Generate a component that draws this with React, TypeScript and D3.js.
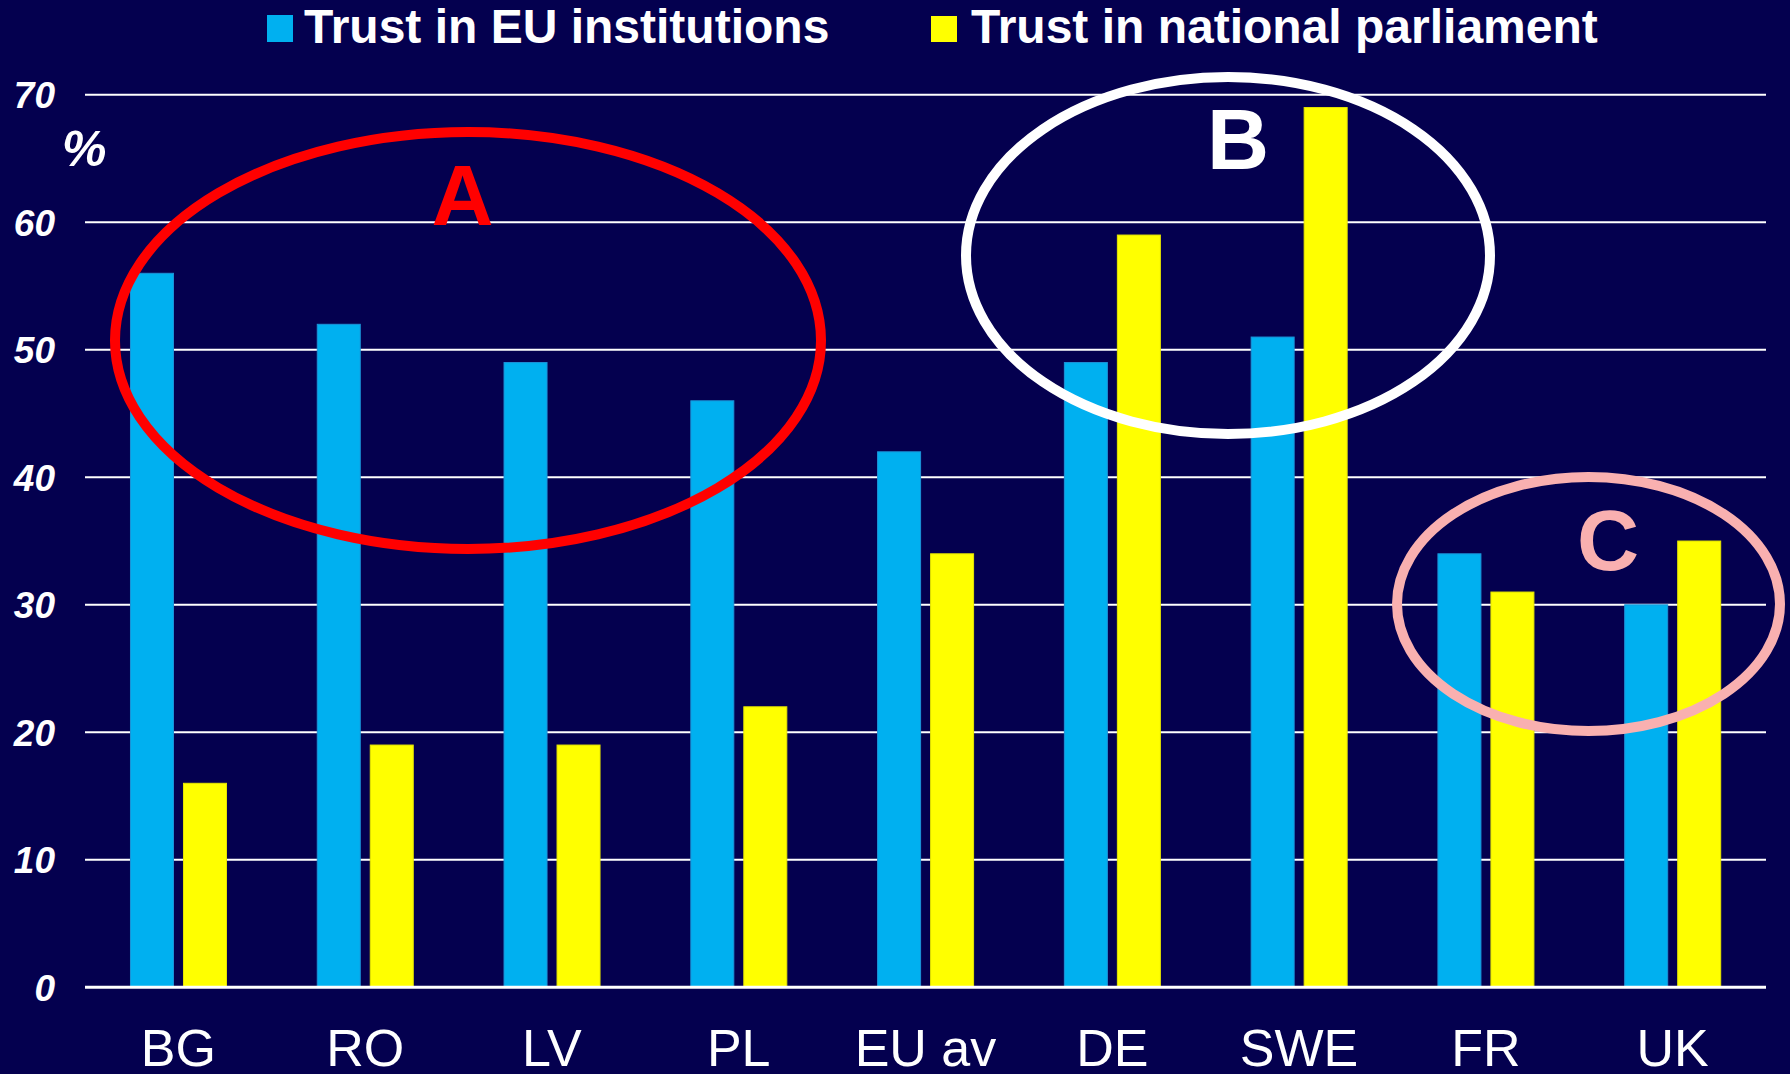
import React, { useEffect } from "react";
import * as d3 from "d3";

const categories = ["BG", "RO", "LV", "PL", "EU av", "DE", "SWE", "FR", "UK"];
const seriesNames = ["Trust in EU institutions", "Trust in national parliament"];
const trustEU = [56, 52, 49, 46, 42, 49, 51, 34, 30];
const trustNational = [16, 19, 19, 22, 34, 59, 69, 31, 35];
const yTicks = [0, 10, 20, 30, 40, 50, 60, 70];
const seriesColors = ["#00B0F0", "#FFFF00"];
const seriesStrokes = ["#1C93D8", "#E6E600"];

const W = 1790;
const H = 1074;
const FONT = "'Liberation Sans', Arial, Helvetica, sans-serif";
const BG = "#04004F";

export default function App() {
  useEffect(() => {
    document.body.style.margin = "0";
    document.body.style.background = BG;
  }, []);

  const x = d3.scaleBand<string>().domain(categories).range([85, 1766]).paddingInner(0).paddingOuter(0);
  const y = d3.scaleLinear().domain([0, 70]).range([987.3, 94.8]);
  const bw = x.bandwidth();
  const sub = d3
    .scaleBand<string>()
    .domain(seriesNames)
    .range([bw * 0.2435, bw * 0.2435 + 96])
    .paddingInner(0.1887)
    .paddingOuter(0);

  const values = [trustEU, trustNational];

  return (
    <svg width={W} height={H} style={{ position: "absolute", left: 0, top: 0, display: "block" }} xmlns="http://www.w3.org/2000/svg">
      <rect x={0} y={0} width={W} height={H} fill={BG} />

      {/* gridlines */}
      {yTicks.filter((t) => t > 0).map((t) => (
        <line key={t} x1={85} x2={1766} y1={y(t)} y2={y(t)} stroke="#FFFFFF" strokeWidth={2} />
      ))}

      {/* bars */}
      {seriesNames.map((s, si) =>
        categories.map((c, ci) => {
          const v = values[si][ci];
          const bx = (x(c) as number) + (sub(s) as number);
          return (
            <rect
              key={s + c}
              x={bx}
              y={y(v)}
              width={sub.bandwidth()}
              height={y(0) - y(v)}
              fill={seriesColors[si]}
              stroke={seriesStrokes[si]}
              strokeWidth={1}
            />
          );
        })
      )}

      {/* axis line */}
      <line x1={85} x2={1766} y1={y(0)} y2={y(0)} stroke="#FFFFFF" strokeWidth={3} />

      {/* y tick labels */}
      {yTicks.map((t) => (
        <text
          key={"yl" + t}
          x={55}
          y={y(t)}
          dy="0.36em"
          textAnchor="end"
          fontFamily={FONT}
          fontWeight="bold"
          fontStyle="italic"
          fontSize={37}
          fill="#FFFFFF"
        >
          {t}
        </text>
      ))}
      <text x={62} y={166} fontFamily={FONT} fontWeight="bold" fontStyle="italic" fontSize={50} fill="#FFFFFF">
        %
      </text>

      {/* x labels */}
      {categories.map((c) => (
        <text
          key={"xl" + c}
          x={(x(c) as number) + bw / 2}
          y={1066}
          textAnchor="middle"
          fontFamily={FONT}
          fontSize={52}
          fill="#FFFFFF"
        >
          {c}
        </text>
      ))}

      {/* legend */}
      <rect x={267} y={15} width={26} height={27} fill={seriesColors[0]} />
      <text x={304} y={43} fontFamily={FONT} fontWeight="bold" fontSize={48} fill="#FFFFFF">
        {seriesNames[0]}
      </text>
      <rect x={931} y={16} width={26} height={26} fill={seriesColors[1]} />
      <text x={971} y={43} fontFamily={FONT} fontWeight="bold" fontSize={48} fill="#FFFFFF">
        {seriesNames[1]}
      </text>

      {/* annotation ellipses */}
      <ellipse cx={468} cy={340.5} rx={353} ry={208.5} fill="none" stroke="#FF0000" strokeWidth={10} />
      <ellipse cx={1228} cy={255.5} rx={262} ry={178.5} fill="none" stroke="#FFFFFF" strokeWidth={10} />
      <ellipse cx={1588.5} cy={604} rx={191.5} ry={127} fill="none" stroke="#F9B0B0" strokeWidth={10} />

      <text x={462.5} y={225} textAnchor="middle" fontFamily={FONT} fontWeight="bold" fontSize={86} fill="#FF0000">
        A
      </text>
      <text x={1238} y={169} textAnchor="middle" fontFamily={FONT} fontWeight="bold" fontSize={86} fill="#FFFFFF">
        B
      </text>
      <text x={1608} y={570} textAnchor="middle" fontFamily={FONT} fontWeight="bold" fontSize={86} fill="#F9B0B0">
        C
      </text>
    </svg>
  );
}
